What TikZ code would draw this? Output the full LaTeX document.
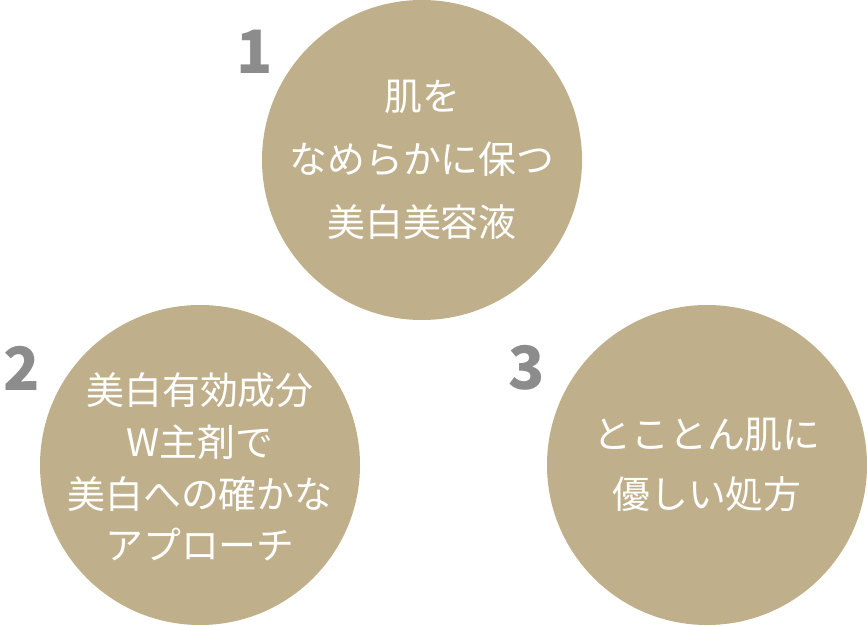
\documentclass[tikz,border=0pt]{standalone}
\usepackage{fontspec}
\newfontfamily\jp{Noto Sans CJK JP}
\definecolor{beige}{HTML}{BFAF8B}
\definecolor{numgray}{HTML}{8C8C8C}
\begin{document}
\begin{tikzpicture}[x=1bp,y=-1bp,
  disc/.style={circle,fill=beige,minimum size=320bp,inner sep=0pt},
  lbl/.style={text=white,align=center,font=\jp\fontsize{38}{58}\selectfont},
  num/.style={text=numgray,font=\jp\bfseries\fontsize{60}{60}\selectfont}]
\useasboundingbox (0,0) rectangle (867,626);
\node[disc] (c1) at (422,160) {};
\node[disc] (c2) at (200,465) {};
\node[disc] (c3) at (707,465) {};
\node[lbl,font=\jp\fontsize{38}{63}\selectfont] (t1) at (c1) {肌を\\なめらかに保つ\\美白美容液};
\node[lbl,font=\jp\fontsize{38}{52}\selectfont] (t2) at (200,467) {美白有効成分\\W主剤で\\美白への確かな\\アプローチ};
\node[lbl,font=\jp\fontsize{38}{60}\selectfont] (t3) at (c3) {とことん肌に\\優しい処方};
\node[num] (n1) at (255,52) {1};
\node[num] (n2) at (22,368) {2};
\node[num] (n3) at (527,368) {3};
\end{tikzpicture}
\end{document}
